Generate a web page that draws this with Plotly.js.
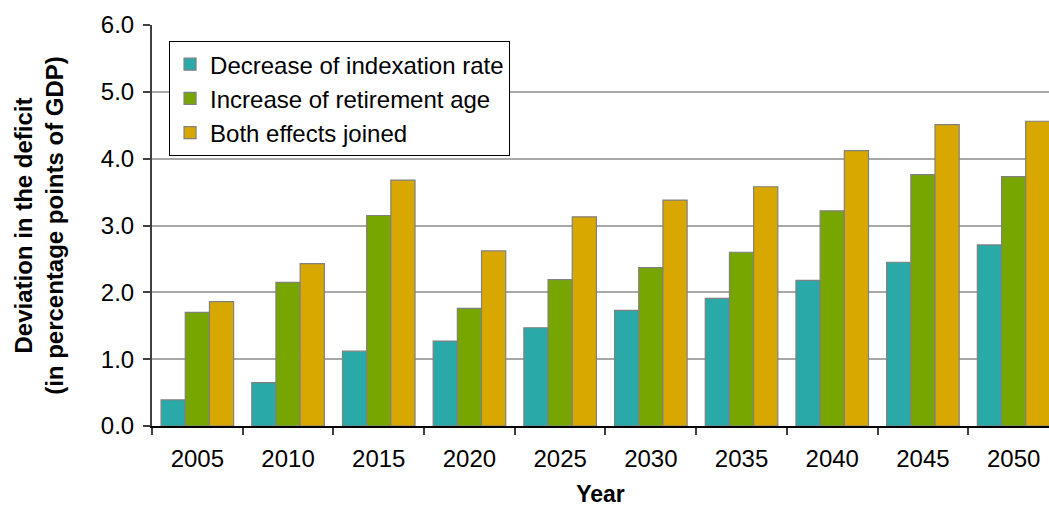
<!DOCTYPE html>
<html>
<head>
<meta charset="utf-8">
<script src="https://cdn.plot.ly/plotly-3.0.1.min.js"></script>
<style>html,body{margin:0;padding:0;overflow:hidden;background:#fff;}</style>
</head>
<body>
<div id="chart" style="width:1049px;height:507px;"></div>
<script>
const years = ["2005","2010","2015","2020","2025","2030","2035","2040","2045","2050"];
const decreaseIndexation = [0.39, 0.65, 1.12, 1.27, 1.47, 1.73, 1.91, 2.18, 2.45, 2.71];
const increaseRetirement = [1.70, 2.15, 3.15, 1.76, 2.19, 2.37, 2.60, 3.22, 3.76, 3.73];
const bothEffects = [1.86, 2.43, 3.68, 2.62, 3.13, 3.38, 3.58, 4.12, 4.51, 4.56];
const seriesNames = ["Decrease of indexation rate", "Increase of retirement age", "Both effects joined"];
const seriesColors = ["#2aa9a9", "#78a600", "#d8a800"];
const seriesValues = [decreaseIndexation, increaseRetirement, bothEffects];

const font = "Liberation Sans, Arial, sans-serif";
const traces = seriesValues.map((vals, i) => ({
  type: "bar",
  x: years,
  y: vals,
  name: seriesNames[i],
  marker: {color: seriesColors[i], line: {color: "#808080", width: 1.2}},
  hoverinfo: "x+y"
}));

const layout = {
  width: 1049, height: 507,
  margin: {l: 152, r: 0, t: 25, b: 81},
  paper_bgcolor: "#fff", plot_bgcolor: "#fff",
  barmode: "group", bargap: 0.2, bargroupgap: 0,
  font: {family: font, size: 24, color: "#000"},
  showlegend: true,
  legend: {
    x: 0.019, y: 0.96, xanchor: "left", yanchor: "top",
    bgcolor: "#fff", bordercolor: "#000", borderwidth: 1,
    font: {family: font, size: 24, color: "#000"},
    itemclick: false
  },
  xaxis: {
    type: "category",
    range: [-0.5, 9.39],
    tickson: "boundaries",
    ticks: "outside", ticklen: 7, tickcolor: "#404040", tickwidth: 1.5,
    showline: true, linecolor: "#000", linewidth: 2,
    showgrid: false, zeroline: false,
    tickfont: {family: font, size: 24, color: "#000"},
    ticklabelstandoff: 10,
    title: {text: "Year", font: {family: font, size: 23, color: "#000", weight: "bold"}, standoff: 24}
  },
  yaxis: {
    range: [0, 6],
    dtick: 1, tick0: 0, tickformat: ".1f",
    ticks: "outside", ticklen: 7, tickcolor: "#404040", tickwidth: 1.5,
    showline: true, linecolor: "#404040", linewidth: 2,
    showgrid: true, gridcolor: "#a8a8a8", gridwidth: 2,
    zeroline: false,
    tickfont: {family: font, size: 24, color: "#000"},
    ticklabelstandoff: 4,
    title: {text: "<b>Deviation in the deficit</b><br><b>(in percentage points of GDP)</b>", font: {family: font, size: 24, color: "#000"}, standoff: 30}
  }
};

Plotly.newPlot("chart", traces, layout, {displayModeBar: false});
</script>
</body>
</html>
